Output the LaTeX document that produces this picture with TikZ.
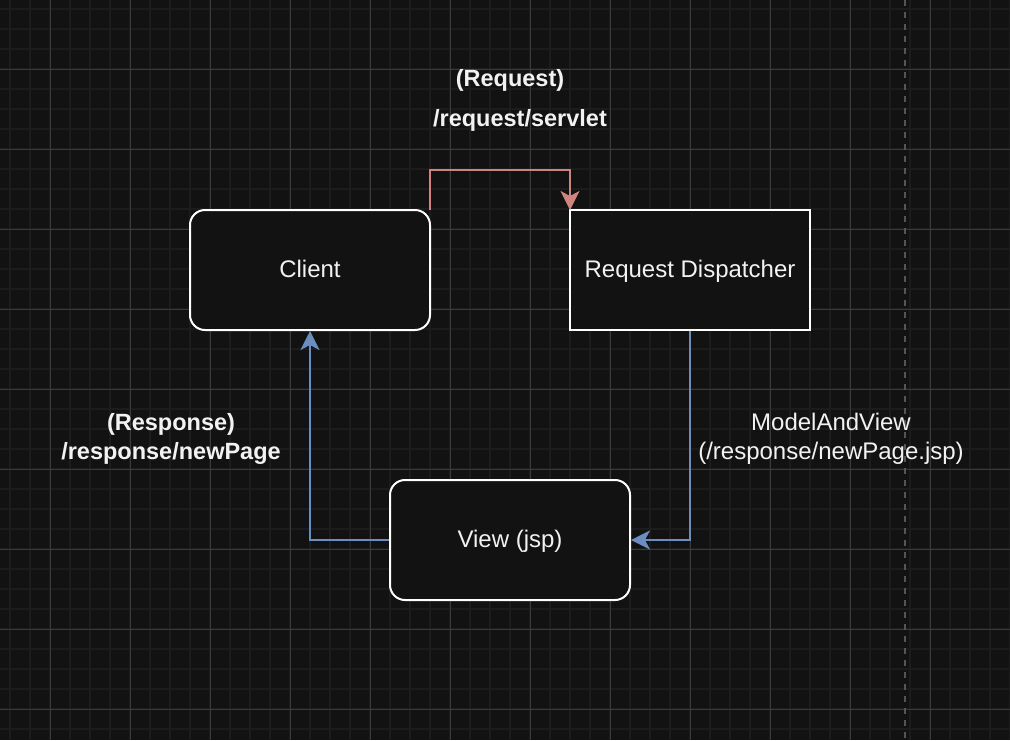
\documentclass[tikz,border=0pt]{standalone}
\usepackage{fontspec}
\setmainfont{Liberation Sans}
\usetikzlibrary{arrows.meta}
\definecolor{bgc}{HTML}{121212}
\definecolor{minorc}{HTML}{1C1C1C}
\definecolor{majorc}{HTML}{3B3B3B}
\definecolor{dashc}{HTML}{555555}
\definecolor{txt}{HTML}{F2F2F2}
\definecolor{redc}{HTML}{D0847F}
\definecolor{bluec}{HTML}{6C8EBF}
\tikzset{
  box/.style={draw=white, line width=2pt, fill=bgc, minimum width=240pt, minimum height=120pt, text=txt, font=\fontsize{24}{28}\selectfont, inner sep=0pt, text height=16pt, text depth=1pt},
  rbox/.style={box, rounded corners=15pt},
  lbl/.style={text=txt, font=\fontsize{24}{29}\selectfont, align=center},
  blbl/.style={lbl, font=\bfseries\fontsize{23.5}{29}\selectfont},
  redarr/.style={draw=redc, line width=1.6pt, -{Stealth[length=19pt,width=19pt,inset=5pt]}},
  bluearr/.style={draw=bluec, line width=1.6pt, -{Stealth[length=19pt,width=19pt,inset=5pt]}},
}
\begin{document}
\begin{tikzpicture}[x=1pt,y=-1pt]
\fill[bgc] (0,0) rectangle (1010,740);
\useasboundingbox (0,0) rectangle (1010,740);
\foreach \i in {0,...,50} {\draw[minorc, line width=1.5pt] ({10+20*\i},0) -- ({10+20*\i},740);}
\foreach \i in {0,...,37} {\draw[minorc, line width=1.5pt] (0,{9+20*\i}) -- (1010,{9+20*\i});}
\foreach \i in {0,...,12} {\draw[majorc, line width=1pt] ({50+80*\i},0) -- ({50+80*\i},740);}
\foreach \i in {0,...,9} {\draw[majorc, line width=1pt] (0,{69+80*\i}) -- (1010,{69+80*\i});}
\draw[dashc, line width=1.5pt, dash pattern=on 6pt off 6pt] (905,0) -- (905,740);

\node[rbox] (client) at (310,270) {Client};
\node[box] (disp) at (690,270) {Request Dispatcher};
\node[rbox] (view) at (510,540) {View (jsp)};

\coordinate (c1) at (430,210);
\coordinate (d1) at (570,210);
\draw[redarr] (c1) -- (430,170) -- (570,170) -- (d1);
\draw[bluearr] (disp.south) |- (view.east);
\draw[bluearr] (view.west) -| (client.south);

\node[blbl] (req) at (510,80) {(Request)};
\node[blbl] (reqp) at (520,120) {/request/servlet};
\node[blbl] (resp) at (171,439) {(Response)\\/response/newPage};
\node[lbl] (mav) at (831,439) {ModelAndView\\(/response/newPage.jsp)};
\end{tikzpicture}
\end{document}
